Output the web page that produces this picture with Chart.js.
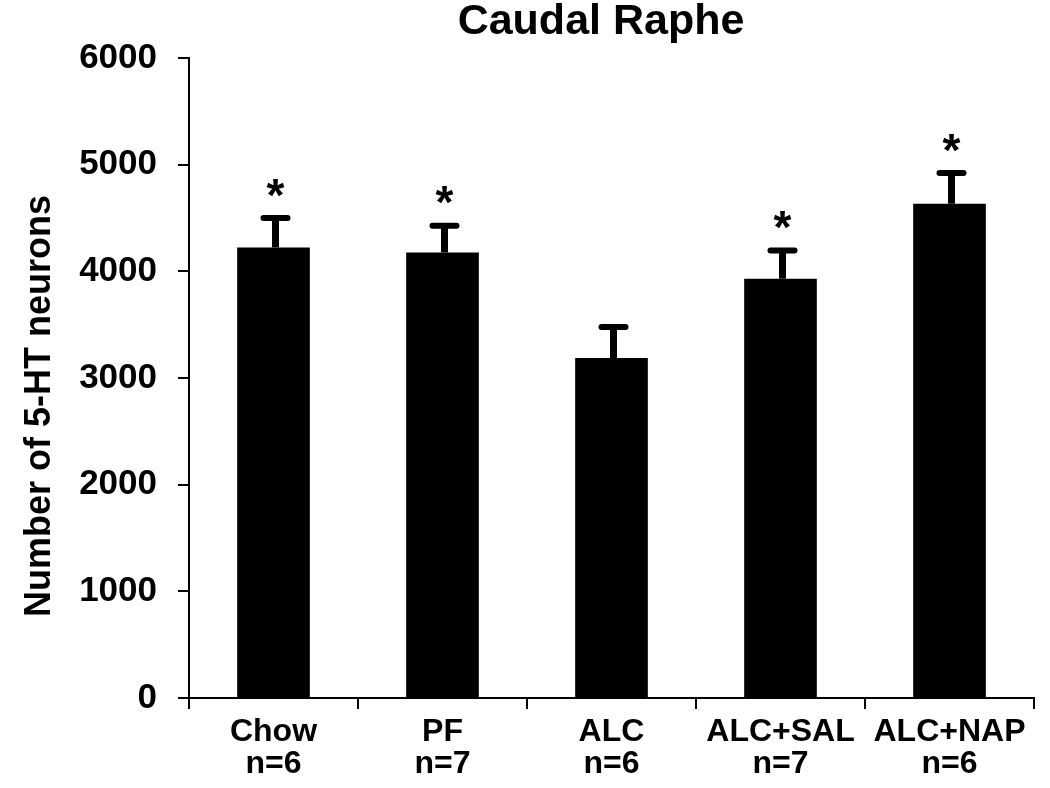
<!DOCTYPE html>
<html>
<head>
<meta charset="utf-8">
<script src="https://cdn.jsdelivr.net/npm/chart.js@4/dist/chart.umd.min.js"></script>
<style>
	body { margin: 0; background: #fff; }
	#wrap { width: 1050px; height: 788px; }
</style>
</head>
<body>
<div id="wrap"><canvas id="cht" width="1050" height="788"></canvas></div>
<script>
"use strict";

var groups = ["Chow", "PF", "ALC", "ALC+SAL", "ALC+NAP"];
var counts = ["n=6", "n=7", "n=6", "n=7", "n=6"];
var means = [4224, 4177, 3187, 3931, 4634];
var sems = [276, 251, 291, 265, 288];
var signif = [true, true, false, true, true];
var yTicks = [0, 1000, 2000, 3000, 4000, 5000, 6000];

var fam = "'Liberation Sans', Arial, Helvetica, sans-serif";

var labels = [];
for (var i = 0; i < groups.length; i++) {
	labels.push([groups[i], counts[i]]);
}

// error bars, asterisks and the two titles
var extras = {
	id: 'extras',
	afterDatasetsDraw: function (chart) {
		var ctx = chart.ctx;
		var meta = chart.getDatasetMeta(0);
		var y = chart.scales.y;
		ctx.save();
		ctx.strokeStyle = '#000';
		ctx.fillStyle = '#000';
		for (var i = 0; i < meta.data.length; i++) {
			var bar = meta.data[i];
			var top = y.getPixelForValue(means[i]);
			var cap = y.getPixelForValue(means[i] + sems[i]);
			ctx.lineCap = 'butt';
			ctx.lineWidth = 7;
			ctx.beginPath();
			ctx.moveTo(bar.x + 2, top);
			ctx.lineTo(bar.x + 2, cap);
			ctx.stroke();
			ctx.lineCap = 'round';
			ctx.lineWidth = 6;
			ctx.beginPath();
			ctx.moveTo(bar.x + 2 - 12, cap);
			ctx.lineTo(bar.x + 2 + 12, cap);
			ctx.stroke();
			if (signif[i]) {
				ctx.font = "bold 46px " + fam;
				ctx.textAlign = 'center';
				ctx.textBaseline = 'middle';
				ctx.fillText('*', bar.x + 2, cap - 20);
			}
		}

		ctx.font = "bold 43px " + fam;
		ctx.textAlign = 'center';
		ctx.textBaseline = 'middle';
		ctx.fillText('Caudal Raphe', 601, 22);

		ctx.translate(40, 406);
		ctx.rotate(-Math.PI / 2);
		ctx.font = "bold 36px " + fam;
		ctx.fillText('Number of 5-HT neurons', 0, 0);
		ctx.restore();
	}
};

var chart = new Chart(document.getElementById("cht").getContext('2d'), {
	type: 'bar',
	data: {
		labels: labels,
		datasets: [{
			data: means,
			backgroundColor: '#000',
			borderWidth: 0,
			categoryPercentage: 1,
			barPercentage: 0.43
		}]
	},
	options: {
		responsive: false,
		animation: false,
		layout: { padding: { left: 0, right: 16, top: 58, bottom: 0 } },
		plugins: {
			legend: { display: false },
			tooltip: { enabled: false },
			title: { display: false }
		},
		scales: {
			x: {
				border: { color: '#000', width: 2 },
				grid: { offset: true, drawOnChartArea: false, color: '#000', lineWidth: 2, tickLength: 11 },
				ticks: {
					color: '#000',
					maxRotation: 0,
					padding: 7,
					font: { family: fam, size: 32, weight: 'bold', lineHeight: 1.0 }
				},
				afterFit: function (scale) { scale.height = 90; }
			},
			y: {
				min: 0,
				max: 6000,
				border: { color: '#000', width: 2 },
				grid: { drawOnChartArea: false, color: '#000', lineWidth: 2, tickLength: 11 },
				afterBuildTicks: function (scale) {
					scale.ticks = yTicks.map(function (v) { return { value: v }; });
				},
				ticks: {
					color: '#000',
					padding: 21,
					font: { family: fam, size: 35, weight: 'bold' },
					callback: function (v) { return String(v); }
				},
				afterFit: function (scale) { scale.width = 189; }
			}
		}
	},
	plugins: [extras]
});
</script>
</body>
</html>
